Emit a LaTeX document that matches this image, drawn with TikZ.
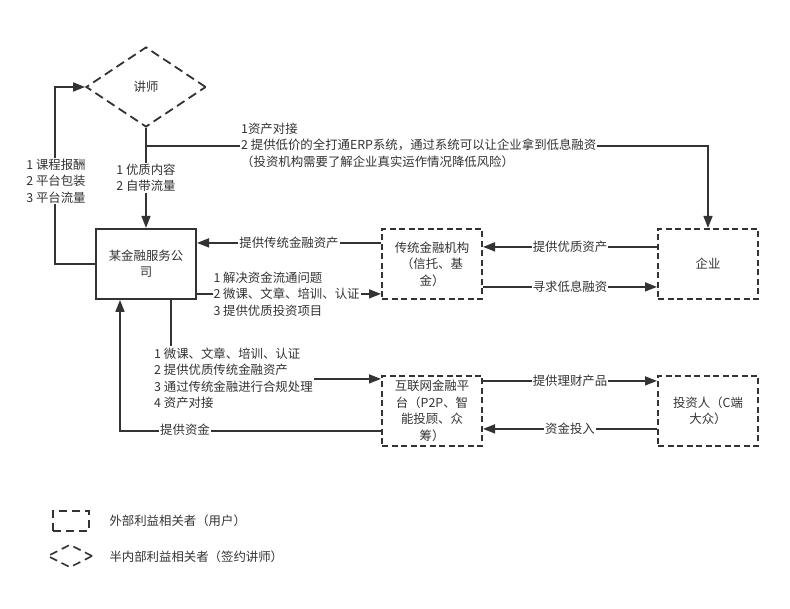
\documentclass[tikz,border=0pt]{standalone}
\usepackage{fontspec}
\setmainfont{Noto Sans CJK SC}
\usetikzlibrary{shapes.geometric,arrows.meta,positioning}
\definecolor{lineink}{HTML}{333333}
\definecolor{textink}{HTML}{333333}

\begin{document}
\begin{tikzpicture}[
  x=1pt,y=-1pt,
  font=\fontsize{12.4}{16.5}\selectfont,
  text=textink,
  solidbox/.style={draw=lineink,line width=2pt,fill=white,align=center,minimum width=100pt,minimum height=70pt,inner sep=2pt},
  dashbox/.style={draw=lineink,line width=2pt,dash pattern=on 6pt off 3.5pt,fill=white,align=center,minimum width=100pt,minimum height=70pt,inner sep=2pt},
  dashdiamond/.style={diamond,draw=lineink,line width=1.8pt,dash pattern=on 9pt off 5pt,inner sep=0pt},
  arr/.style={-{Triangle[length=12pt,width=9pt]},draw=lineink,line width=1.6pt},
  lbl/.style={fill=white,inner sep=1pt,align=left}
]
\useasboundingbox (0,0) rectangle (790,608);
% lecturer
\node[dashdiamond,minimum width=120pt,minimum height=80pt] (teacher) at (146,87) {讲师};
% company
\node[solidbox,below=100pt of teacher] (main) {某金融服务公\\司};
% traditional finance
\node[dashbox,right=184pt of main] (trad) {传统金融机构\\（信托、基\\金）};
% enterprise
\node[dashbox,right=174pt of trad] (ent) {企业};
% internet platform
\node[dashbox,below=75pt of trad] (inet) {互联网金融平\\台（P2P、智\\能投顾、众\\筹）};
% investors
\node[dashbox,right=174pt of inet] (inv) {投资人（C端\\大众）};

% lecturer links
\draw[arr] (teacher.south) -- (main.north)
  node[lbl,midway] (qual) {1 优质内容\\2 自带流量};
\draw[arr] ([yshift=-18pt]teacher.south) -| (ent.north);
\node[lbl,anchor=west] (erp) at (240,145) {1资产对接\\2 提供低价的全打通ERP系统，通过系统可以让企业拿到低息融资\\（投资机构需要了解企业真实运作情况降低风险）};
\draw[arr] (main.west) -- ++(-40,0) |- (teacher.west);
\node[lbl] (pay) at (56,181) {1 课程报酬\\2 平台包装\\3 平台流量};

% traditional finance links
\draw[arr] ([yshift=21pt]trad.west) -- ([yshift=21pt]main.east)
  node[lbl,midway] (tasset) {提供传统金融资产};
\draw[arr] ([yshift=-30pt]main.east) -- ([yshift=-30pt]trad.west)
  node[lbl,anchor=west,pos=0.08] (solve) {1 解决资金流通问题\\2 微课、文章、培训、认证\\3 提供优质投资项目};
\draw[arr] ([yshift=17pt]ent.west) -- ([yshift=17pt]trad.east)
  node[lbl,midway] (good) {提供优质资产};
\draw[arr] ([yshift=-23pt]trad.east) -- ([yshift=-23pt]ent.west)
  node[lbl,midway] (low) {寻求低息融资};

% internet platform links
\draw[arr] ([xshift=25pt]main.south) |- ([yshift=32pt]inet.west);
\node[lbl,anchor=west] (serv) at (153,378) {1 微课、文章、培训、认证\\2 提供优质传统金融资产\\3 通过传统金融进行合规处理\\4 资产对接};
\draw[arr] ([yshift=-20pt]inet.west) -| ([xshift=-26pt]main.south);
\node[lbl] (fund) at (185,430) {提供资金};
\draw[arr] ([yshift=30pt]inet.east) -- ([yshift=30pt]inv.west)
  node[lbl,midway] (prod) {提供理财产品};
\draw[arr] ([yshift=-18pt]inv.west) -- ([yshift=-18pt]inet.east)
  node[lbl,midway] (invest) {资金投入};

% legend
\node[dashbox,line width=1.8pt,dash pattern=on 8pt off 5pt,minimum width=36pt,minimum height=20pt] (legbox) at (71,521) {};
\node[anchor=west] (legboxtxt) at (106,521) {外部利益相关者（用户）};
\node[dashdiamond,line width=1.6pt,dash pattern=on 8pt off 5pt,minimum width=45pt,minimum height=23pt] (legdia) at (70,556) {};
\node[anchor=west] (legdiatxt) at (106,557) {半内部利益相关者（签约讲师）};
\end{tikzpicture}
\end{document}
